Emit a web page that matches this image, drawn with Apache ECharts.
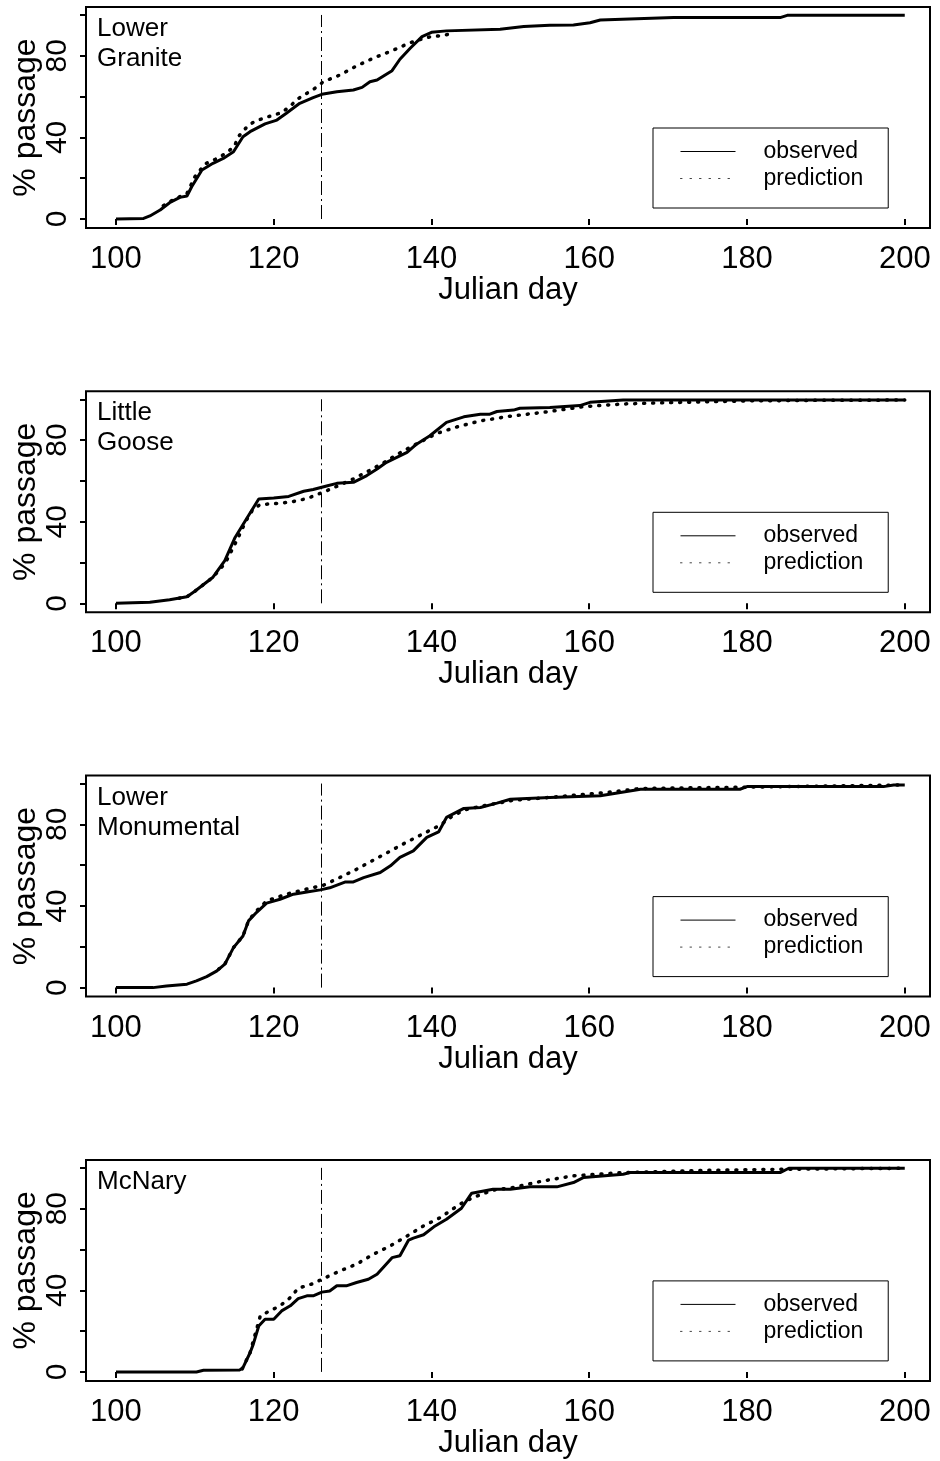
<!DOCTYPE html>
<html>
<head>
<meta charset="utf-8">
<script src="https://cdn.jsdelivr.net/npm/echarts@6/dist/echarts.min.js"></script>
<style>
html,body{margin:0;padding:0;background:#fff;}
#container{width:940px;height:1461px;}
</style>
</head>
<body>
<div id="container"></div>
<script>
// site names shown in the top-left of each panel
var sites = ['Lower\nGranite', 'Little\nGoose', 'Lower\nMonumental', 'McNary'];
var xTicks = [100, 120, 140, 160, 180, 200];
var yTicks = [0, 20, 40, 60, 80, 100];
var yLabels = [0, 40, 80];
var refDay = 126;

// [julian day, % passage]
var lowerGraniteObs = [[100,0],[103.5,0.3],[104.3,1.5],[105.6,4.4],[106.8,8],[108.1,10.6],[109,11.3],[109.6,15.8],[110.9,24],[112.3,27.3],[113.6,29.7],[114.9,33],[116.1,40.3],[117,42.8],[118.9,46.6],[120.4,48.5],[121.6,51.8],[123.3,56.7],[125,59.5],[126.1,61.1],[128,62.4],[130.1,63.2],[131.2,64.5],[132.2,67.3],[133.1,68.1],[135,72.7],[136,78.3],[137.3,83.7],[138.8,89.4],[140,91.5],[141.9,92.2],[148.7,93],[151.7,94.3],[155,95],[158,95.1],[160.1,96.2],[161.4,97.5],[170.7,98.7],[184.2,98.7],[185.1,99.8],[200,99.8]];
var lowerGranitePred = [[106,6.5],[106.8,8.5],[107.9,10.6],[109,12.5],[110,20.7],[111.3,27],[112.6,29.3],[113.8,31.9],[115,35.5],[115.5,40.3],[116.8,46],[117.8,48.2],[120,51],[121,52.1],[122.1,55.4],[123.1,59],[125.2,64],[126.3,67.3],[128.4,70.6],[130.5,75],[132.6,78.8],[135,82.5],[137.3,86.4],[139.4,89],[140.9,89.7],[142.2,90.5]];

var littleGooseObs = [[100,0],[104.3,0.5],[106.8,1.8],[109,3.2],[110,5.9],[111.1,9.2],[112.3,12.8],[113.8,20.9],[115.1,32.3],[116.4,40.5],[118.1,51.1],[120,51.6],[121.9,52.4],[123.8,54.9],[125,55.8],[126.7,57.5],[128,58.8],[130.1,59.3],[131.8,62.6],[133.1,65.8],[134.3,69.1],[136.9,74],[138.1,78],[139.8,82.1],[141.9,88.7],[144.1,91.4],[146.2,92.7],[147.4,92.7],[148.3,94],[150.4,94.7],[151.2,95.6],[155,96],[158.8,96.9],[160.1,98.5],[164.3,99.6],[200,99.6]];
var littleGoosePred = [[108,2.5],[109,3.2],[110,5.9],[111.1,9.2],[112.3,12.8],[113.9,20],[115.3,30.7],[116.5,40.5],[117.4,46.3],[118.3,48.4],[120,48.8],[122.1,49.6],[124.2,51.3],[126.3,54.5],[127.8,57],[129.9,60.6],[132.2,65.2],[134.1,69.3],[136.2,74.2],[138.6,79.1],[140.7,83.3],[143.2,86.4],[146.2,89.4],[150,91.7],[154.6,93.8],[159.3,96.4],[164.3,97.7],[170.7,98.4],[180,99.2],[190,99.5],[200,99.6]];

var lowerMonumentalObs = [[100,0],[104.7,0],[106.4,0.8],[109,1.7],[110.2,3.3],[111.5,5.4],[112.8,8.2],[113.8,11.5],[114.9,19.6],[116.1,25.3],[116.8,32.7],[117.8,36.8],[119.1,41.4],[120.8,43.3],[122.5,45.8],[124.2,46.9],[125.9,47.9],[127.1,48.9],[129.1,51.8],[130.1,51.8],[131.4,53.9],[133.5,56.4],[134.8,59.7],[136,63.8],[137.7,67],[139.4,73.6],[140.9,76.3],[141.9,83.4],[144.1,87.8],[146.2,88.3],[148.3,90.4],[150,92.3],[155,93.2],[161.4,94],[166.5,97.2],[179.1,97.2],[180,98.5],[197.3,98.5],[198.6,99.3],[200,99.3]];
var lowerMonumentalPred = [[113,9],[113.8,11.5],[114.9,19.6],[116.1,25.3],[116.8,32.7],[117.6,36.8],[119.1,42.5],[121.6,45.8],[124.2,48.3],[126.3,50.2],[128.4,54],[130.5,58],[132.6,62.4],[134.8,67],[136.9,71.4],[139,75.5],[141.1,79.6],[142.8,84.5],[144.5,87.4],[147,89.4],[150.4,91.8],[154.6,93.1],[162.2,95.6],[166.5,97.6],[179.1,98.2],[191.8,98.9],[200,99.3]];

var mcNaryObs = [[100,0],[110.2,0],[111.1,0.8],[115.7,1],[116.1,2.1],[117,9.4],[117.4,13.5],[118.1,22.5],[118.9,25.8],[120,25.8],[121,29.9],[122.1,32.4],[123.1,35.9],[124.2,37.3],[125,37.3],[126.1,39.1],[127.1,39.7],[128,42.2],[129.2,42.2],[130.5,43.8],[132,45.4],[133.1,47.9],[135,56],[136,56.9],[137.1,64.6],[137.7,65.6],[139,67.2],[140.3,71.1],[141.9,74.8],[143.8,80.2],[145.1,87.6],[147.8,89.5],[150,89.5],[152.5,90.7],[155.9,90.7],[158,92.8],[159.3,95.3],[164.3,96.9],[165.2,97.7],[184.2,97.7],[185.3,99.8],[200,99.8]];
var mcNaryPred = [[116,1.5],[117,9.4],[117.4,15],[118.3,27.5],[119.5,29.9],[120.8,32.4],[122.1,36.4],[123.1,41],[125,43.3],[126.1,45.4],[128.4,49.5],[130.5,52.8],[132.6,57.6],[134.8,61.8],[136.9,66.6],[139,71.6],[141.1,75.6],[143.6,82.2],[145.3,85.5],[147.8,89.1],[150.4,90.4],[154,93.5],[158,96.1],[164.3,97.7],[174.9,98.8],[184.2,99.3],[200,99.8]];

var observed = [lowerGraniteObs, littleGooseObs, lowerMonumentalObs, mcNaryObs];
var predicted = [lowerGranitePred, littleGoosePred, lowerMonumentalPred, mcNaryPred];

var font = 'Liberation Sans, Arial, Helvetica, sans-serif';
var myChart = echarts.init(document.getElementById('container'));

var grids = [], xAxes = [], yAxes = [], series = [], titles = [], legends = [];
for (var i = 0; i < 4; i++) {
	var panelTop = 7 + i * 384.3;
	grids.push({
		left: 86, right: 10, top: panelTop, height: 221,
		containLabel: false, outerBoundsMode: 'none',
		show: true, borderColor: '#000', borderWidth: 2, backgroundColor: 'transparent'
	});
	xAxes.push({
		type: 'value', gridIndex: i, min: 96.2, max: 203.2,
		name: 'Julian day', nameLocation: 'middle', nameGap: 47, nameMoveOverlap: false,
		nameTextStyle: {fontFamily: font, fontSize: 31, color: '#000', lineHeight: 31},
		axisLine: {show: false},
		axisTick: {show: true, inside: false, length: 6, customValues: xTicks, lineStyle: {color: '#000', width: 2}},
		axisLabel: {customValues: xTicks, margin: 16, fontFamily: font, fontSize: 31, lineHeight: 31, color: '#000'},
		splitLine: {show: false}
	});
	yAxes.push({
		type: 'value', gridIndex: i, min: -4.4, max: 103.9,
		name: '% passage', nameLocation: 'middle', nameGap: 44, nameMoveOverlap: false,
		nameTextStyle: {fontFamily: font, fontSize: 32, color: '#000', lineHeight: 32},
		axisLine: {show: false},
		axisTick: {show: true, inside: false, length: 6, customValues: yTicks, lineStyle: {color: '#000', width: 2}},
		axisLabel: {customValues: yLabels, rotate: 90, margin: 13, fontFamily: font, fontSize: 30, lineHeight: 30, color: '#000'},
		splitLine: {show: false}
	});
	series.push({
		name: 'observed', type: 'line', xAxisIndex: i, yAxisIndex: i,
		data: observed[i], symbol: 'none', showSymbol: false, z: 3,
		lineStyle: {color: '#000', width: 3},
		itemStyle: {color: '#000'},
		markLine: {
			silent: true, symbol: ['none', 'none'], label: {show: false},
			lineStyle: {color: '#000', width: 1, type: [14, 4, 2, 4]},
			data: [[{coord: [refDay, 0]}, {coord: [refDay, 100]}]]
		}
	});
	series.push({
		name: 'prediction', type: 'line', xAxisIndex: i, yAxisIndex: i,
		data: predicted[i], symbol: 'none', showSymbol: false, z: 2,
		lineStyle: {color: '#000', width: 3.5, type: [1, 8], cap: 'round'},
		itemStyle: {color: '#000'}
	});
	titles.push({
		text: sites[i], left: 97, top: panelTop + 7, padding: 0,
		textStyle: {fontFamily: font, fontSize: 26, fontWeight: 'normal', lineHeight: 30, color: '#000'}
	});
	legends.push({
		orient: 'vertical', left: 653, top: panelTop + 121,
		itemWidth: 55, itemHeight: 14, itemGap: 4,
		padding: [12, 25, 18, 27],
		borderColor: '#000', borderWidth: 1, selectedMode: false,
		textStyle: {fontFamily: font, fontSize: 23, lineHeight: 23, color: '#000', padding: [0, 0, 0, 23]},
		data: [
			{name: 'observed', itemStyle: {opacity: 0}, lineStyle: {width: 1, type: 'solid', color: '#000'}},
			{name: 'prediction', itemStyle: {opacity: 0}, lineStyle: {width: 1, type: [1.5, 8], color: '#444'}}
		]
	});
}

var option = {
	animation: false,
	backgroundColor: '#fff',
	title: titles,
	legend: legends,
	grid: grids,
	xAxis: xAxes,
	yAxis: yAxes,
	series: series
};
myChart.setOption(option, true);
</script>
</body>
</html>
